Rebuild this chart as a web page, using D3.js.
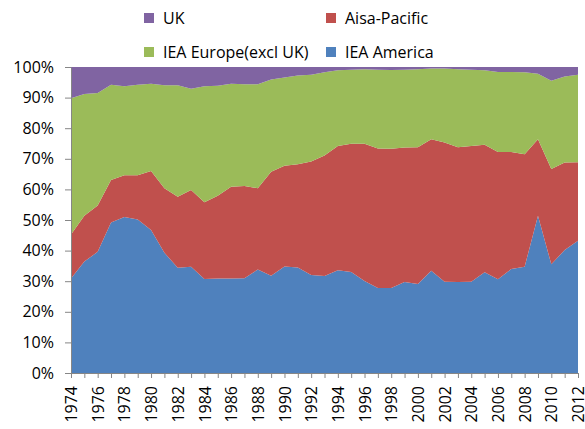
<!DOCTYPE html>
<html>
<head>
<meta charset="utf-8">
<script src="https://cdn.jsdelivr.net/npm/d3@7/dist/d3.min.js"></script>
<style>
  body { margin: 0; background: #fff; }
  text { font-family: "Open Sans", "DejaVu Sans", sans-serif; fill: #000; }
</style>
</head>
<body>
<svg id="chart" width="585" height="429"></svg>
<script>
// shares in percent
var years = d3.range(1974, 2013);
var america = [30.9, 36.4, 39.6, 49.2, 51.0, 50.2, 46.7, 39.3, 34.4, 34.7, 30.7, 30.9, 30.9,
  31.0, 33.8, 31.8, 34.8, 34.5, 32.0, 31.7, 33.6, 33.0, 30.1, 27.8, 27.8, 29.7,
  29.1, 33.4, 29.8, 29.7, 29.8, 32.9, 30.6, 34.0, 34.7, 51.4, 35.5, 40.2, 43.2];
var asiaPacific = [14.4, 15.0, 15.1, 13.9, 13.6, 14.4, 19.3, 21.1, 23.2, 25.1, 25.1, 27.0, 30.0,
  30.1, 26.6, 34.0, 32.9, 33.7, 37.1, 39.4, 40.6, 41.9, 44.8, 45.6, 45.5, 44.0,
  44.7, 43.0, 45.5, 44.1, 44.4, 41.7, 41.6, 38.2, 36.8, 25.0, 31.2, 28.6, 25.7];
var europe = [44.5, 39.8, 36.8, 31.1, 29.1, 29.6, 28.5, 33.6, 36.4, 33.1, 37.9, 36.0, 33.6,
  33.3, 34.0, 30.1, 28.9, 29.0, 28.4, 27.2, 24.7, 24.2, 24.4, 25.7, 25.7, 25.4,
  25.5, 23.1, 24.2, 25.5, 24.9, 24.3, 26.2, 26.2, 26.8, 21.4, 28.8, 28.1, 28.6];
var uk = [10.2, 8.8, 8.5, 5.8, 6.3, 5.8, 5.5, 6.0, 6.0, 7.1, 6.3, 6.1, 5.5,
  5.6, 5.6, 4.1, 3.4, 2.8, 2.5, 1.7, 1.1, 0.9, 0.7, 0.9, 1.0, 0.9,
  0.7, 0.5, 0.5, 0.7, 0.9, 1.1, 1.6, 1.6, 1.7, 2.2, 4.5, 3.1, 2.5];

var keys = ['america', 'asiaPacific', 'europe', 'uk'];
var colors = { america: '#4f81bd', asiaPacific: '#c0504d', europe: '#9bbb59', uk: '#8064a2' };

var rows = years.map(function(y, i) {
  return { year: y, america: america[i], asiaPacific: asiaPacific[i], europe: europe[i], uk: uk[i] };
});

var svg = d3.select('#chart');
var margin = { left: 71, right: 7, top: 67, bottom: 56 };
var w = 585 - margin.left - margin.right;
var h = 429 - margin.top - margin.bottom;

var x = d3.scaleLinear().domain([1974, 2012]).range([0, w]);
var y = d3.scaleLinear().domain([0, 1]).range([h, 0]);

var series = d3.stack().keys(keys).offset(d3.stackOffsetExpand)(rows);

var area = d3.area()
  .x(function(d) { return x(d.data.year); })
  .y0(function(d) { return y(d[0]); })
  .y1(function(d) { return y(d[1]); });

var g = svg.append('g').attr('transform', 'translate(' + margin.left + ',' + margin.top + ')');

g.selectAll('.layer')
  .data(series)
  .enter()
  .append('path')
  .attr('class', 'layer')
  .attr('fill', function(s) { return colors[s.key]; })
  .attr('d', area);

var yAxis = g.append('g')
  .call(d3.axisLeft(y).ticks(10, '.0%').tickSize(6).tickSizeOuter(0));
yAxis.selectAll('text').style('font-size', '16px').attr('x', -17);

var xAxis = g.append('g')
  .attr('transform', 'translate(0,' + h + ')')
  .call(d3.axisBottom(x).tickValues(years).tickSize(5).tickSizeOuter(0).tickFormat(function(d) {
    return d % 2 === 0 ? String(d) : '';
  }));
xAxis.selectAll('text')
  .style('font-size', '16px')
  .attr('transform', 'rotate(-90)')
  .attr('text-anchor', 'end')
  .attr('x', -13)
  .attr('y', 0)
  .attr('dy', '0.35em');

svg.selectAll('.domain, .tick line').attr('stroke', '#868686');

// legend, two rows by two columns
var legendItems = [
  { key: 'uk', label: 'UK', col: 0, row: 0 },
  { key: 'asiaPacific', label: 'Aisa-Pacific', col: 1, row: 0 },
  { key: 'europe', label: 'IEA Europe(excl UK)', col: 0, row: 1 },
  { key: 'america', label: 'IEA America', col: 1, row: 1 }
];

var legend = svg.selectAll('.legend-item')
  .data(legendItems)
  .enter()
  .append('g')
  .attr('class', 'legend-item')
  .attr('transform', function(d) { return 'translate(' + (144 + d.col * 182) + ',' + (18 + d.row * 34) + ')'; });

legend.append('rect')
  .attr('x', 0).attr('y', -5)
  .attr('width', 10).attr('height', 10)
  .attr('fill', function(d) { return colors[d.key]; });

legend.append('text')
  .attr('x', 19)
  .attr('dy', '0.35em')
  .style('font-size', '16px')
  .text(function(d) { return d.label; });
</script>
</body>
</html>
